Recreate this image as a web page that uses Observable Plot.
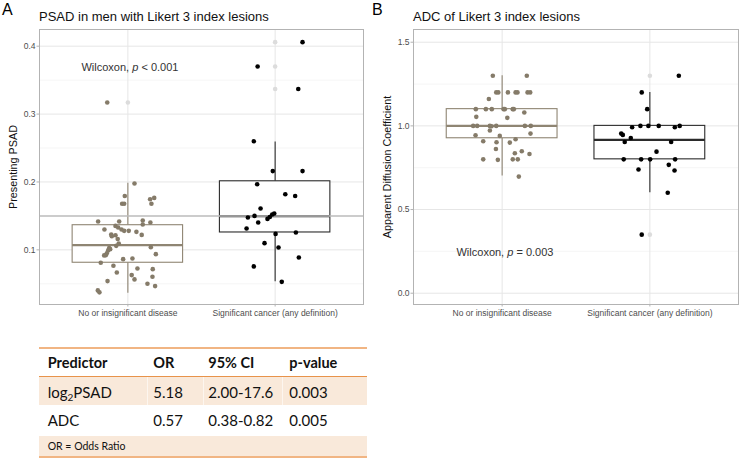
<!DOCTYPE html>
<html><head><meta charset="utf-8">
<script src="https://cdn.jsdelivr.net/npm/d3@7"></script>
<script src="https://cdn.jsdelivr.net/npm/@observablehq/plot@0.6"></script>
<style>
body{margin:0;background:#fff;font-family:"Liberation Sans",Arial,sans-serif;}
#wrap{position:relative;width:740px;height:458px;overflow:hidden;background:#fff;}
.panel{position:absolute;top:0;}
.abs{position:absolute;white-space:nowrap;line-height:1;}
.tb{font-family:Lato,"Open Sans",sans-serif;color:#111;}
</style></head>
<body><div id="wrap"></div>
<script>
// ---------- data ----------
const categories = ["No or insignificant disease", "Significant cancer (any definition)"];
const panelLetters = ["A", "B"];
const panelTitles = ["PSAD in men with Likert 3 index lesions", "ADC of Likert 3 index lesions"];
const yLabels = ["Presenting PSAD", "Apparent Diffusion Coefficient"];
const notes = ["Wilcoxon, p < 0.001", "Wilcoxon, p = 0.003"];

// PSAD, group 1 (values + horizontal jitter in category units)
const psadNoVals = [0.1977,0.1794,0.168,0.168,0.1746,0.1765,0.168,0.1418,0.1418,0.1432,0.1373,0.1403,0.130,0.1353,0.133,0.130,0.128,0.128,0.1265,0.122,0.1227,0.120,0.1216,0.116,0.1025,0.099,0.095,0.092,0.0918,0.101,0.1059,0.1094,0.104,0.0937,0.0809,0.0863,0.0873,0.0765,0.0726,0.0667,0.0716,0.0628,0.0565,0.0603,0.054,0.050,0.0466,0.0403,0.0374,0.317];
const psadNoJit  = [0.045,-0.021,-0.039,-0.025,0.151,0.179,0.160,-0.202,-0.059,0.101,0.101,0.153,-0.159,-0.084,-0.066,-0.043,-0.025,0.006,0.058,0.094,-0.113,-0.109,-0.084,-0.069,-0.127,-0.134,-0.143,-0.150,-0.161,-0.120,-0.079,-0.062,0.156,0.190,-0.184,-0.032,0.031,-0.098,0.065,-0.075,0.169,0.026,0.045,0.167,-0.138,0.133,0.185,-0.204,-0.193,-0.140];
// PSAD, group 2
const psadSigVals = [0.406,0.370,0.337,0.260,0.216,0.216,0.1966,0.182,0.1794,0.161,0.1476,0.150,0.1456,0.1485,0.152,0.1535,0.1403,0.1315,0.1235,0.1256,0.1099,0.1035,0.0888,0.0756,0.0529];
const psadSigJit  = [0.186,-0.119,0.157,-0.145,-0.016,0.186,-0.122,0.069,0.136,-0.099,-0.185,-0.140,-0.052,-0.036,-0.020,-0.006,-0.115,-0.194,0.003,0.141,-0.072,0.023,0.161,-0.145,0.045];
// ADC, group 1
const adcNoVals = [1.3,1.3,1.2,1.2,1.2,1.2,1.2,1.2,1.2,1.161,1.1,1.1,1.1,1.1,1.1,1.1,1.1,1.08,1.054,1.048,1.0,1.0,1.0,0.998,1.0,1.0,1.0,0.972,0.944,0.954,0.94,0.908,0.902,0.9,0.92,0.862,0.836,0.848,0.832,0.8,0.797,0.8,0.8,0.697];
const adcNoJit  = [-0.063,0.167,-0.040,-0.026,0.039,0.091,0.104,0.172,0.190,-0.090,-0.178,-0.110,-0.070,0.010,0.018,0.072,0.079,0.150,-0.175,0.035,-0.196,-0.169,-0.083,-0.072,-0.040,0.154,0.194,-0.083,-0.180,0.192,-0.016,-0.128,-0.038,0.052,0.091,-0.042,0.086,0.133,0.185,-0.128,-0.029,0.072,0.106,0.113];
// ADC, group 2
const adcSigVals = [1.3,1.2,1.1,0.992,1.0,1.0,1.0,0.992,1.0,0.954,0.946,0.928,0.904,0.904,0.846,0.8,0.8,0.8,0.8,0.767,0.739,0.733,0.6,0.35];
const adcSigJit  = [0.196,-0.055,-0.018,-0.120,-0.064,-0.010,0.060,0.169,0.202,-0.194,-0.183,-0.129,-0.170,0.144,0.045,-0.177,-0.059,0.002,0.171,0.128,-0.077,0.167,0.121,-0.055];

// box statistics [group1, group2]
const psadQ1 = [0.081, 0.1256], psadMed = [0.107, 0.1496], psadQ3 = [0.1363, 0.201];
const psadLo = [0.036, 0.053], psadHi = [0.198, 0.259];
const psadOutNo = [0.317], psadOutSig = [0.406, 0.370, 0.337];
const adcQ1 = [0.926, 0.80], adcMed = [1.0, 0.916], adcQ3 = [1.10, 1.0];
const adcLo = [0.70, 0.60], adcHi = [1.30, 1.20];
const adcOutNo = [], adcOutSig = [1.30, 0.35];

const psadTicks = [0.1, 0.2, 0.3, 0.4], psadMinor = [0.05, 0.15, 0.25, 0.35];
const adcTicks = [0.0, 0.5, 1.0, 1.5], adcMinor = [0.25, 0.75, 1.25];
const psadRef = [0.15];
const noteX = [0.685, 0.691], noteY = [0.369, 0.245];

// table
const tableHeader = ["Predictor", "OR", "95% CI", "p-value"];
const predictors = ["log<sub>2</sub>PSAD", "ADC"];
const oddsRatios = ["5.18", "0.57"];
const confInts = ["2.00-17.6", "0.38-0.82"];
const pValues = ["0.003", "0.005"];
const footnote = "OR = Odds Ratio";

// ---------- drawing ----------
const groupColors = ["#857b69", "#000000"];
const boxColors = ["#8f8573", "#2b2b2b"];
const FONT = "Liberation Sans, Arial, sans-serif";

function makePanel(cfg) {
  const pts = [];
  cfg.groups.forEach((g, gi) => g.vals.forEach((v, i) => pts.push({g: gi + 1, x: gi + 1 + g.jit[i], v})));
  const outs = [];
  cfg.outliers.forEach((arr, gi) => arr.forEach(v => outs.push({g: gi + 1, v})));
  const boxes = [0, 1].map(i => ({g: i + 1, q1: cfg.q1[i], med: cfg.med[i], q3: cfg.q3[i], lo: cfg.lo[i], hi: cfg.hi[i]}));
  const bc = d => boxColors[d.g - 1];
  const hw = 0.375;
  return Plot.plot({
    width: 370, height: 325,
    marginTop: 29, marginBottom: 21, marginLeft: cfg.marginLeft, marginRight: cfg.marginRight,
    style: {fontFamily: FONT, background: "white", overflow: "visible"},
    x: {domain: [0.4, 2.6]},
    y: {domain: cfg.yDomain},
    marks: [
      Plot.ruleY(cfg.minor, {stroke: "#f0f0f0", strokeWidth: 0.7}),
      Plot.ruleY(cfg.ticks, {stroke: "#e6e6e6", strokeWidth: 1}),
      Plot.ruleX([1, 2], {stroke: "#e6e6e6", strokeWidth: 1}),
      Plot.ruleX(boxes, {x: "g", y1: "lo", y2: "q1", stroke: bc, strokeWidth: 1.1}),
      Plot.ruleX(boxes, {x: "g", y1: "q3", y2: "hi", stroke: bc, strokeWidth: 1.1}),
      Plot.rect(boxes, {x1: d => d.g - hw, x2: d => d.g + hw, y1: "q1", y2: "q3", fill: "white", stroke: bc, strokeWidth: 1.1}),
      Plot.ruleY(boxes, {y: "med", x1: d => d.g - hw, x2: d => d.g + hw, stroke: bc, strokeWidth: 2.2}),
      cfg.ref ? Plot.ruleY(cfg.ref, {stroke: "#bdbdbd", strokeWidth: 1.5}) : null,
      Plot.dot(outs, {x: "g", y: "v", r: 2.3, fill: "#dcdcdc", stroke: null}),
      Plot.dot(pts, {x: "x", y: "v", r: 2.3, fill: d => groupColors[d.g - 1], stroke: null}),
      Plot.frame({stroke: "#b3b3b3", strokeWidth: 1}),
      Plot.axisY(cfg.ticks, {tickFormat: d3.format(".1f"), tickSize: 2.5, tickPadding: 1.5, fontSize: 8.5, stroke: "#b3b3b3", fill: "#4d4d4d", label: null}),
      Plot.axisX([1, 2], {tickFormat: d => categories[d - 1], tickSize: 2.5, tickPadding: 3, fontSize: 8.5, stroke: "#b3b3b3", fill: "#4d4d4d", label: null}),
      Plot.text([cfg.ylabel], {frameAnchor: "left", textAnchor: "middle", dx: cfg.labelDx, rotate: -90, fontSize: 10.8, fill: "#111"}),
      Plot.text([cfg.note], {x: cfg.noteX, y: cfg.noteY, text: d => d, textAnchor: "start", fontSize: 11, fill: "#333"})
    ]
  });
}

const wrap = document.getElementById("wrap");
const panelA = makePanel({
  groups: [{vals: psadNoVals, jit: psadNoJit}, {vals: psadSigVals, jit: psadSigJit}],
  outliers: [psadOutNo, psadOutSig],
  q1: psadQ1, med: psadMed, q3: psadQ3, lo: psadLo, hi: psadHi,
  yDomain: [0.0195, 0.4246], ticks: psadTicks, minor: psadMinor, ref: psadRef,
  ylabel: yLabels[0], labelDx: -26, note: notes[0], noteX: noteX[0], noteY: noteY[0],
  marginLeft: 39, marginRight: 7
});
const panelB = makePanel({
  groups: [{vals: adcNoVals, jit: adcNoJit}, {vals: adcSigVals, jit: adcSigJit}],
  outliers: [adcOutNo, adcOutSig],
  q1: adcQ1, med: adcMed, q3: adcQ3, lo: adcLo, hi: adcHi,
  yDomain: [-0.0675, 1.576], ticks: adcTicks, minor: adcMinor, ref: null,
  ylabel: yLabels[1], labelDx: -26.3, note: notes[1], noteX: noteX[1], noteY: noteY[1],
  marginLeft: 43, marginRight: 2
});
[panelA, panelB].forEach((p, i) => {
  p.classList.add("panel");
  p.style.left = (i * 370) + "px";
  p.querySelectorAll("text").forEach(t => {
    if (t.textContent.startsWith("Wilcoxon")) {
      const rest = t.textContent.slice("Wilcoxon, p".length);
      t.textContent = "";
      const ns = "http://www.w3.org/2000/svg";
      const a = document.createElementNS(ns, "tspan"); a.textContent = "Wilcoxon, ";
      const b = document.createElementNS(ns, "tspan"); b.textContent = "p"; b.setAttribute("font-style", "italic");
      const c = document.createElementNS(ns, "tspan"); c.textContent = rest;
      t.append(a, b, c);
    }
  });
  wrap.appendChild(p);
});

function addText(html, left, top, css) {
  const d = document.createElement("div");
  d.className = "abs";
  d.innerHTML = html;
  d.style.left = left + "px"; d.style.top = top + "px";
  Object.assign(d.style, css || {});
  wrap.appendChild(d);
  return d;
}
// panel letters and titles
panelLetters.forEach((l, i) => addText(l, 2 + i * 370, 1.5, {fontSize: "16px", color: "#000"}));
panelTitles.forEach((t, i) => addText(t, [39, 413][i], 9.7, {fontSize: "13px", color: "#111"}));

// ---------- table ----------
function addBox(left, top, w, h, css) {
  const d = document.createElement("div");
  d.style.position = "absolute";
  d.style.left = left + "px"; d.style.top = top + "px";
  d.style.width = w + "px"; d.style.height = h + "px";
  Object.assign(d.style, css);
  wrap.appendChild(d);
}
const TL = 39, TW = 328;
const colX = [47.7, 153.3, 208.3, 289.3];
const colEdges = [147, 203, 282];
addBox(TL, 347, TW, 2, {background: "#f1b583"});
addBox(TL, 375.5, TW, 1.3, {background: "#e8934a"});
addBox(TL, 376.8, TW, 28.5, {background: "#f9e9da"});
colEdges.forEach(x => addBox(x, 376.8, 1, 28.5, {background: "#fdf6ef"}));
addBox(TL, 436, TW, 20.5, {background: "#f9e9da"});
addBox(TL, 456, TW, 2, {background: "#f1b583"});

const hs = 14.5, rs = 15;
tableHeader.forEach((h, i) => addText(h, colX[i], 369 - 0.887 * hs, {fontSize: hs + "px", fontWeight: "bold"}).classList.add("tb"));
const rowBase = [398.3, 426.7];
predictors.forEach((p, r) => {
  [p, oddsRatios[r], confInts[r], pValues[r]].forEach((v, i) => {
    const d = addText(v, colX[i], rowBase[r] - 0.887 * rs, {fontSize: rs + "px"});
    d.classList.add("tb");
    d.querySelectorAll("sub").forEach(s => { s.style.fontSize = "10px"; s.style.verticalAlign = "-3px"; s.style.lineHeight = "0"; });
  });
});
addText(footnote, colX[0], 450 - 0.887 * 10.5, {fontSize: "10.5px"}).classList.add("tb");
</script>
</body></html>
